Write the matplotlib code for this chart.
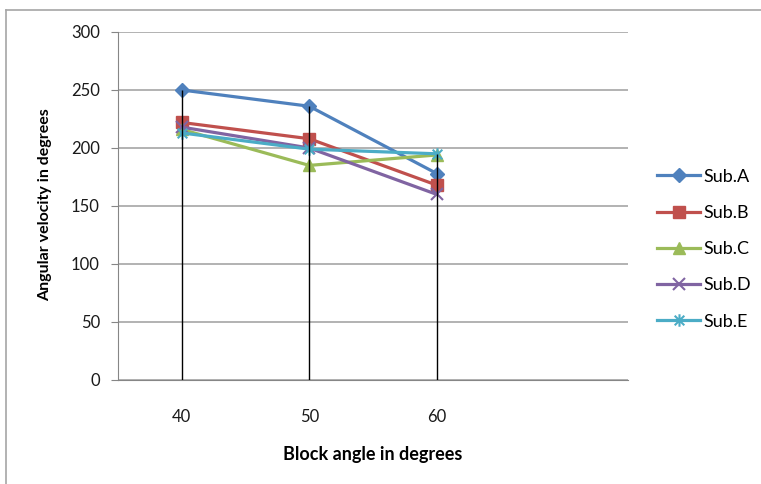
import numpy as np
import matplotlib.pyplot as plt
from matplotlib.path import Path
from matplotlib.lines import Line2D

plt.rcParams['font.family'] = ['Lato', 'DejaVu Sans']

angles = ["40", "50", "60"]
sub_a = [250, 236, 178]
sub_b = [222, 208, 168]
sub_c = [216, 185, 194]
sub_d = [218, 200, 160]
sub_e = [213, 199, 195]
names = ["Sub.A", "Sub.B", "Sub.C", "Sub.D", "Sub.E"]

# excel style star: an x plus a vertical bar
star = Path([(-1, -1), (1, 1), (-1, 1), (1, -1), (0, -1.3), (0, 1.3)],
            [Path.MOVETO, Path.LINETO, Path.MOVETO, Path.LINETO, Path.MOVETO, Path.LINETO])

colors = ['#4F81BD', '#C0504D', '#9BBB59', '#8064A2', '#4BACC6']
markers = ['D', 's', '^', 'x', star]
msizes = [7, 8, 8, 9, 9]

fig = plt.figure(figsize=(7.61, 4.84), dpi=100)
ax = fig.add_axes([118 / 761, 1 - 380 / 484, 510 / 761, 348 / 484])

x = np.arange(len(angles))
series = [sub_a, sub_b, sub_c, sub_d, sub_e]
for i in range(len(series)):
    ax.plot(x, series[i], color=colors[i], lw=2.3, marker=markers[i],
            markersize=msizes[i], markeredgewidth=1.5 if i > 2 else 1,
            markeredgecolor=colors[i], label=names[i], zorder=3)

# drop lines
top = np.max(np.array(series), axis=0)
ax.vlines(x, 0, top, color='black', lw=1, zorder=4)

ax.set_xlim(-0.5, 3.5)
ax.set_ylim(0, 300)
ax.set_yticks(range(0, 301, 50))
ax.set_xticks(x)
ax.set_xticklabels(angles)
ax.yaxis.grid(True, color='#A6A6A6', lw=1.2)
ax.set_axisbelow(True)
for s in ['top', 'right']:
    ax.spines[s].set_visible(False)
ax.spines['left'].set_color('#868686')
ax.spines['bottom'].set_color('#868686')
ax.tick_params(axis='y', length=5, color='#868686', pad=8, labelsize=12, labelcolor='#1a1a1a')
ax.tick_params(axis='x', length=0, pad=21, labelsize=12, labelcolor='#1a1a1a')

ax.set_xlabel("Block angle in degrees", fontsize=13, fontweight='bold', labelpad=15)
fig.text(45 / 761, 1 - 205 / 484, "Angular velocity in degrees", rotation=90,
         ha='center', va='center', fontsize=11.5, fontweight='bold')

ax.legend(loc='center left', bbox_to_anchor=(1.057, 0.376), frameon=False, fontsize=13,
          handlelength=2.4, labelspacing=1.12, handletextpad=0.17,
          borderpad=0, borderaxespad=0)

# outer chart border (left and top)
fig.add_artist(Line2D([6 / 761, 6 / 761], [0, 1 - 10 / 484], color='#A6A6A6', lw=1.2))
fig.add_artist(Line2D([6 / 761, 1], [1 - 10 / 484, 1 - 10 / 484], color='#A6A6A6', lw=1.2))

fig.savefig('out.png', dpi=100)
